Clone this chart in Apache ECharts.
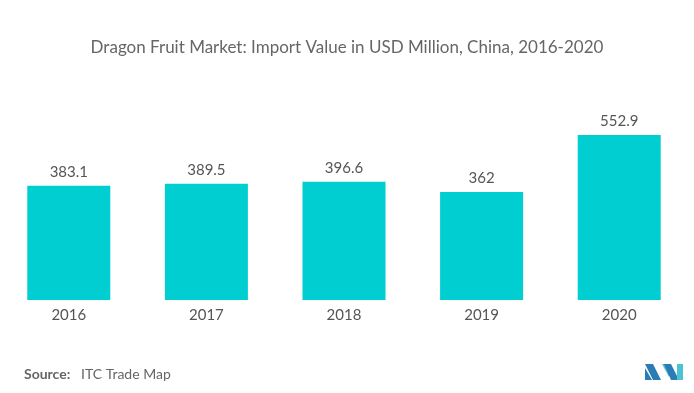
<!DOCTYPE html>
<html><head><meta charset="utf-8">
<script src="https://cdn.jsdelivr.net/npm/echarts@6/dist/echarts.min.js"></script>
<style>html,body{margin:0;padding:0;background:#fff}#c{width:694px;height:393px}</style>
</head><body><div id="c"></div>
<script>
const categories = ['2016', '2017', '2018', '2019', '2020'];
const importValues = [383.1, 389.5, 396.6, 362, 552.9];
const titleText = 'Dragon Fruit Market: Import Value in USD Million, China, 2016-2020';
const sourceLabel = 'Source:';
const sourceText = 'ITC Trade Map';

const chart = echarts.init(document.getElementById('c'));
chart.setOption({
  backgroundColor: '#fff',
  animation: false,
  title: {
    text: titleText, left: 'center', top: 34,
    textStyle: { fontFamily: 'Lato', fontSize: 17, fontWeight: 'normal', color: '#666' }
  },
  grid: { left: -4, right: 6, top: 121, bottom: 93, containLabel: false },
  xAxis: {
    type: 'category', data: categories,
    axisLine: { show: false }, axisTick: { show: false },
    axisLabel: { fontFamily: 'Lato', fontSize: 15, color: '#555', margin: 8 }
  },
  yAxis: { type: 'value', min: 0, max: 600, show: false, splitLine: { show: false } },
  series: [{
    type: 'bar', data: importValues, barWidth: 83,
    itemStyle: { color: '#00CED1' },
    label: { show: true, position: 'top', distance: 6, fontFamily: 'Lato', fontSize: 15, color: '#555' }
  }],
  graphic: [
    { type: 'text', left: 24, top: 367, style: { text: sourceLabel, font: 'bold 14px Lato', fill: '#666' } },
    { type: 'text', left: 81, top: 367, style: { text: sourceText, font: '14px Lato', fill: '#666' } },
    { type: 'polygon', shape: { points: [[645,364],[653,364],[661,380],[653,380]] }, style: { fill: '#2b7bb5' } },
    { type: 'polygon', shape: { points: [[645,368],[652,380],[645,380]] }, style: { fill: '#2b7bb5' } },
    { type: 'polygon', shape: { points: [[662,364],[669,364],[669,377]] }, style: { fill: '#4cc3d0' } },
    { type: 'polygon', shape: { points: [[664,364],[671,364],[679,380],[671,380]] }, style: { fill: '#2b7bb5' } },
    { type: 'rect', shape: { x: 677, y: 364, width: 6, height: 16 }, style: { fill: '#4cc3d0' } }
  ]
});
</script></body></html>
